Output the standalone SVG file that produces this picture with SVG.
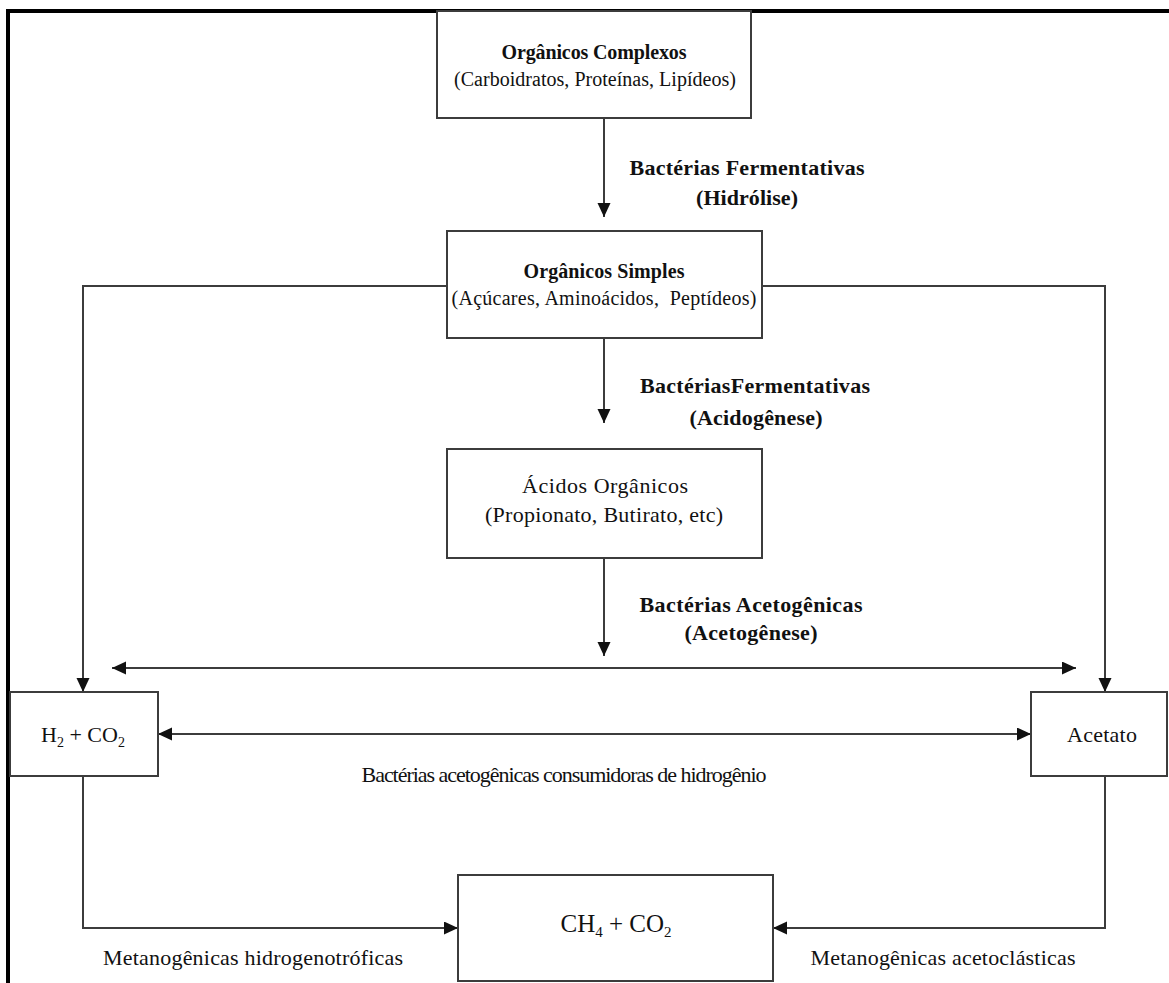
<svg xmlns="http://www.w3.org/2000/svg" width="1169" height="983" viewBox="0 0 1169 983">
<style>
.box{fill:#fff;stroke:#3c3c3c;stroke-width:2}
.ln{fill:none;stroke:#3c3c3c;stroke-width:2}
.t{font-family:"Liberation Serif","Times New Roman",serif;fill:#111;text-anchor:middle}
.b{font-weight:bold}
.s20{font-size:20px}
.s22{font-size:22px}
</style>
<defs>
<marker id="ah" markerUnits="userSpaceOnUse" markerWidth="16" markerHeight="14" refX="14" refY="6.5" orient="auto-start-reverse">
<path d="M0,0 L14,6.5 L0,13 Z" fill="#111"/>
</marker>
</defs>
<rect width="1169" height="983" fill="#fff"/>
<path d="M8,983 V11 H1169" fill="none" stroke="#000" stroke-width="4"/>

<g id="connectors">
<line class="ln" x1="604" y1="118" x2="604" y2="217" marker-end="url(#ah)"/>
<line class="ln" x1="604" y1="338" x2="604" y2="423" marker-end="url(#ah)"/>
<line class="ln" x1="604" y1="558" x2="604" y2="656" marker-end="url(#ah)"/>
<line class="ln" x1="112" y1="668" x2="1076" y2="668" marker-start="url(#ah)" marker-end="url(#ah)"/>
<polyline class="ln" points="447,286 83,286 83,692" marker-end="url(#ah)"/>
<polyline class="ln" points="762,286 1105,286 1105,692" marker-end="url(#ah)"/>
<line class="ln" x1="158" y1="734" x2="1031" y2="734" marker-start="url(#ah)" marker-end="url(#ah)"/>
<polyline class="ln" points="83,776 83,928 458,928" marker-end="url(#ah)"/>
<polyline class="ln" points="1105,776 1105,928 773,928" marker-end="url(#ah)"/>
</g>

<g id="labels">
<text class="t b s22" x="747" y="175" textLength="235">Bactérias Fermentativas</text>
<text class="t b s22" x="747" y="205" textLength="102">(Hidrólise)</text>
<text class="t b s22" x="755" y="393" textLength="230">BactériasFermentativas</text>
<text class="t b s22" x="756" y="425" textLength="133">(Acidogênese)</text>
<text class="t b s22" x="751" y="612" textLength="223">Bactérias Acetogênicas</text>
<text class="t b s22" x="751" y="640" textLength="133">(Acetogênese)</text>
<text class="t s22" x="564" y="782" textLength="405">Bactérias acetogênicas consumidoras de hidrogênio</text>
<text class="t s22" x="253" y="965" textLength="300">Metanogênicas hidrogenotróficas</text>
<text class="t s22" x="943" y="965" textLength="265">Metanogênicas acetoclásticas</text>
</g>

<g id="node-organicos-complexos">
<rect class="box" x="437" y="11" width="314" height="107"/>
<text class="t b s20" x="594" y="59" textLength="185">Orgânicos Complexos</text>
<text class="t s20" x="595" y="86" textLength="282">(Carboidratos, Proteínas, Lipídeos)</text>
</g>

<g id="node-organicos-simples">
<rect class="box" x="447" y="231" width="315" height="107"/>
<text class="t b s20" x="604" y="278" textLength="161">Orgânicos Simples</text>
<text class="t s20" x="604" y="305" textLength="305" xml:space="preserve">(Açúcares, Aminoácidos,  Peptídeos)</text>
</g>

<g id="node-acidos-organicos">
<rect class="box" x="447" y="449" width="315" height="109"/>
<text class="t s22" x="605" y="493" textLength="166">Ácidos Orgânicos</text>
<text class="t s22" x="604" y="522" textLength="238">(Propionato, Butirato, etc)</text>
</g>

<g id="node-h2-co2">
<rect class="box" x="10" y="692" width="148" height="84"/>
<text class="t s22" x="83" y="742">H<tspan font-size="14" dy="5">2</tspan><tspan dy="-5"> + CO</tspan><tspan font-size="14" dy="5">2</tspan></text>
</g>

<g id="node-acetato">
<rect class="box" x="1031" y="692" width="136" height="84"/>
<text class="t s22" x="1102" y="742" textLength="70">Acetato</text>
</g>

<g id="node-ch4-co2">
<rect class="box" x="458" y="875" width="315" height="106"/>
<text class="t" style="font-size:25px" x="616" y="932">CH<tspan font-size="15" dy="5">4</tspan><tspan dy="-5"> + CO</tspan><tspan font-size="15" dy="5">2</tspan></text>
</g>
</svg>
